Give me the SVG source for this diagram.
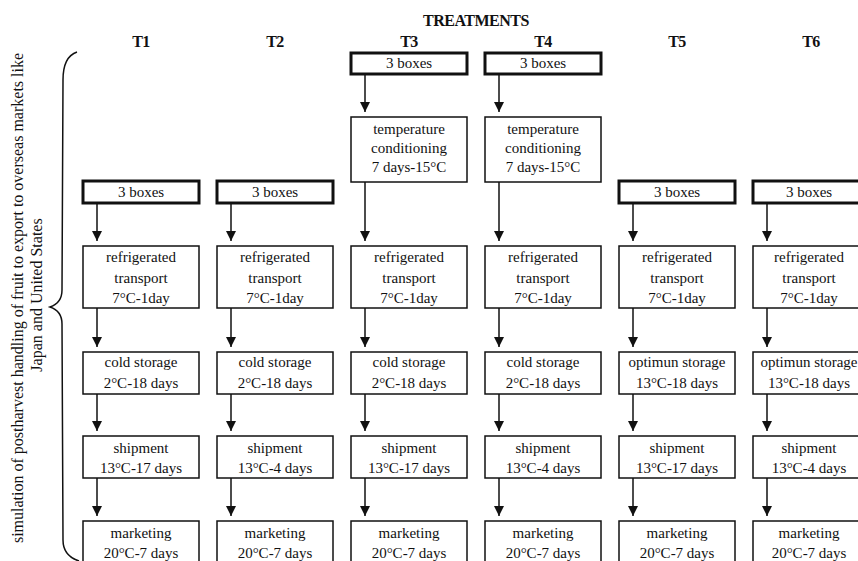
<svg xmlns="http://www.w3.org/2000/svg" width="858" height="561" viewBox="0 0 858 561">
<defs>
<style>
text{font-family:"Liberation Serif","Times New Roman",serif;fill:#111;}
.t{font-size:15px;text-anchor:middle;}
.h{font-size:16px;font-weight:bold;text-anchor:middle;letter-spacing:-0.5px;}
.v{font-size:16px;text-anchor:middle;}
.box{fill:#fff;stroke:#111;stroke-width:1.5;}
.bold{fill:#fff;stroke:#111;stroke-width:3;}
.c{stroke:#111;stroke-width:1.5;fill:none;marker-end:url(#ah);}
</style>
<marker id="ah" viewBox="0 0 10 10" refX="10" refY="5" markerWidth="10" markerHeight="10" markerUnits="userSpaceOnUse" orient="auto">
<path d="M0,0 L10,5 L0,10 z" fill="#111"/>
</marker>
</defs>
<rect width="858" height="561" fill="#fff"/>

<g id="titles">
<text class="h" x="476" y="26">TREATMENTS</text>
<text class="h" x="141" y="47">T1</text>
<text class="h" x="275" y="47">T2</text>
<text class="h" x="409" y="47">T3</text>
<text class="h" x="543" y="47">T4</text>
<text class="h" x="677" y="47">T5</text>
<text class="h" x="811" y="47">T6</text>
</g>

<g id="side-label">
<text class="v" transform="translate(23,298) rotate(-90)">simulation of postharvest handling of fruit to export to overseas markets like</text>
<text class="v" transform="translate(42,295) rotate(-90)">Japan and United States</text>
<path d="M77,52 C68,55 63,65 63,80 L62,290 C62,300 56,305 50,307 C56,309 62,314 62,324 L63,540 C63,552 70,558 79,561" fill="none" stroke="#111" stroke-width="1.5"/>
</g>

<g id="connectors">
<line class="c" x1="97" y1="203" x2="97" y2="241"/>
<line class="c" x1="97" y1="308" x2="97" y2="347"/>
<line class="c" x1="97" y1="394" x2="97" y2="431"/>
<line class="c" x1="97" y1="478" x2="97" y2="516"/>
<line class="c" x1="231" y1="203" x2="231" y2="241"/>
<line class="c" x1="231" y1="308" x2="231" y2="347"/>
<line class="c" x1="231" y1="394" x2="231" y2="431"/>
<line class="c" x1="231" y1="478" x2="231" y2="516"/>
<line class="c" x1="365" y1="74" x2="365" y2="112"/>
<line class="c" x1="365" y1="182" x2="365" y2="241"/>
<line class="c" x1="365" y1="308" x2="365" y2="347"/>
<line class="c" x1="365" y1="394" x2="365" y2="431"/>
<line class="c" x1="365" y1="478" x2="365" y2="516"/>
<line class="c" x1="499" y1="74" x2="499" y2="112"/>
<line class="c" x1="499" y1="182" x2="499" y2="241"/>
<line class="c" x1="499" y1="308" x2="499" y2="347"/>
<line class="c" x1="499" y1="394" x2="499" y2="431"/>
<line class="c" x1="499" y1="478" x2="499" y2="516"/>
<line class="c" x1="633" y1="203" x2="633" y2="241"/>
<line class="c" x1="633" y1="308" x2="633" y2="347"/>
<line class="c" x1="633" y1="394" x2="633" y2="431"/>
<line class="c" x1="633" y1="478" x2="633" y2="516"/>
<line class="c" x1="767" y1="203" x2="767" y2="241"/>
<line class="c" x1="767" y1="308" x2="767" y2="347"/>
<line class="c" x1="767" y1="394" x2="767" y2="431"/>
<line class="c" x1="767" y1="478" x2="767" y2="516"/>
</g>

<g id="t1-boxes"><rect class="bold" x="83" y="181" width="116" height="22"/><text class="t" x="141" y="197">3 boxes</text></g>
<g id="t1-transport"><rect class="box" x="83" y="246" width="116" height="62"/><text class="t" x="141" y="262">refrigerated</text><text class="t" x="141" y="283">transport</text><text class="t" x="141" y="303">7°C-1day</text></g>
<g id="t1-storage"><rect class="box" x="83" y="352" width="116" height="42"/><text class="t" x="141" y="367">cold storage</text><text class="t" x="141" y="388">2°C-18 days</text></g>
<g id="t1-shipment"><rect class="box" x="83" y="436" width="116" height="42"/><text class="t" x="141" y="453">shipment</text><text class="t" x="141" y="473">13°C-17 days</text></g>
<g id="t1-marketing"><rect class="box" x="83" y="521" width="116" height="42"/><text class="t" x="141" y="538">marketing</text><text class="t" x="141" y="558">20°C-7 days</text></g>

<g id="t2-boxes"><rect class="bold" x="217" y="181" width="116" height="22"/><text class="t" x="275" y="197">3 boxes</text></g>
<g id="t2-transport"><rect class="box" x="217" y="246" width="116" height="62"/><text class="t" x="275" y="262">refrigerated</text><text class="t" x="275" y="283">transport</text><text class="t" x="275" y="303">7°C-1day</text></g>
<g id="t2-storage"><rect class="box" x="217" y="352" width="116" height="42"/><text class="t" x="275" y="367">cold storage</text><text class="t" x="275" y="388">2°C-18 days</text></g>
<g id="t2-shipment"><rect class="box" x="217" y="436" width="116" height="42"/><text class="t" x="275" y="453">shipment</text><text class="t" x="275" y="473">13°C-4 days</text></g>
<g id="t2-marketing"><rect class="box" x="217" y="521" width="116" height="42"/><text class="t" x="275" y="538">marketing</text><text class="t" x="275" y="558">20°C-7 days</text></g>

<g id="t3-boxes"><rect class="bold" x="351" y="53" width="116" height="21"/><text class="t" x="409" y="68">3 boxes</text></g>
<g id="t3-conditioning"><rect class="box" x="351" y="117" width="116" height="65"/><text class="t" x="409" y="134">temperature</text><text class="t" x="409" y="153">conditioning</text><text class="t" x="409" y="172">7 days-15°C</text></g>
<g id="t3-transport"><rect class="box" x="351" y="246" width="116" height="62"/><text class="t" x="409" y="262">refrigerated</text><text class="t" x="409" y="283">transport</text><text class="t" x="409" y="303">7°C-1day</text></g>
<g id="t3-storage"><rect class="box" x="351" y="352" width="116" height="42"/><text class="t" x="409" y="367">cold storage</text><text class="t" x="409" y="388">2°C-18 days</text></g>
<g id="t3-shipment"><rect class="box" x="351" y="436" width="116" height="42"/><text class="t" x="409" y="453">shipment</text><text class="t" x="409" y="473">13°C-17 days</text></g>
<g id="t3-marketing"><rect class="box" x="351" y="521" width="116" height="42"/><text class="t" x="409" y="538">marketing</text><text class="t" x="409" y="558">20°C-7 days</text></g>

<g id="t4-boxes"><rect class="bold" x="485" y="53" width="116" height="21"/><text class="t" x="543" y="68">3 boxes</text></g>
<g id="t4-conditioning"><rect class="box" x="485" y="117" width="116" height="65"/><text class="t" x="543" y="134">temperature</text><text class="t" x="543" y="153">conditioning</text><text class="t" x="543" y="172">7 days-15°C</text></g>
<g id="t4-transport"><rect class="box" x="485" y="246" width="116" height="62"/><text class="t" x="543" y="262">refrigerated</text><text class="t" x="543" y="283">transport</text><text class="t" x="543" y="303">7°C-1day</text></g>
<g id="t4-storage"><rect class="box" x="485" y="352" width="116" height="42"/><text class="t" x="543" y="367">cold storage</text><text class="t" x="543" y="388">2°C-18 days</text></g>
<g id="t4-shipment"><rect class="box" x="485" y="436" width="116" height="42"/><text class="t" x="543" y="453">shipment</text><text class="t" x="543" y="473">13°C-4 days</text></g>
<g id="t4-marketing"><rect class="box" x="485" y="521" width="116" height="42"/><text class="t" x="543" y="538">marketing</text><text class="t" x="543" y="558">20°C-7 days</text></g>

<g id="t5-boxes"><rect class="bold" x="619" y="181" width="116" height="22"/><text class="t" x="677" y="197">3 boxes</text></g>
<g id="t5-transport"><rect class="box" x="619" y="246" width="116" height="62"/><text class="t" x="677" y="262">refrigerated</text><text class="t" x="677" y="283">transport</text><text class="t" x="677" y="303">7°C-1day</text></g>
<g id="t5-storage"><rect class="box" x="619" y="352" width="116" height="42"/><text class="t" x="677" y="367">optimun storage</text><text class="t" x="677" y="388">13°C-18 days</text></g>
<g id="t5-shipment"><rect class="box" x="619" y="436" width="116" height="42"/><text class="t" x="677" y="453">shipment</text><text class="t" x="677" y="473">13°C-17 days</text></g>
<g id="t5-marketing"><rect class="box" x="619" y="521" width="116" height="42"/><text class="t" x="677" y="538">marketing</text><text class="t" x="677" y="558">20°C-7 days</text></g>

<g id="t6-boxes"><rect class="bold" x="753" y="181" width="116" height="22"/><text class="t" x="809" y="197">3 boxes</text></g>
<g id="t6-transport"><rect class="box" x="753" y="246" width="116" height="62"/><text class="t" x="809" y="262">refrigerated</text><text class="t" x="809" y="283">transport</text><text class="t" x="809" y="303">7°C-1day</text></g>
<g id="t6-storage"><rect class="box" x="753" y="352" width="116" height="42"/><text class="t" x="809" y="367">optimun storage</text><text class="t" x="809" y="388">13°C-18 days</text></g>
<g id="t6-shipment"><rect class="box" x="753" y="436" width="116" height="42"/><text class="t" x="809" y="453">shipment</text><text class="t" x="809" y="473">13°C-4 days</text></g>
<g id="t6-marketing"><rect class="box" x="753" y="521" width="116" height="42"/><text class="t" x="809" y="538">marketing</text><text class="t" x="809" y="558">20°C-7 days</text></g>
</svg>
